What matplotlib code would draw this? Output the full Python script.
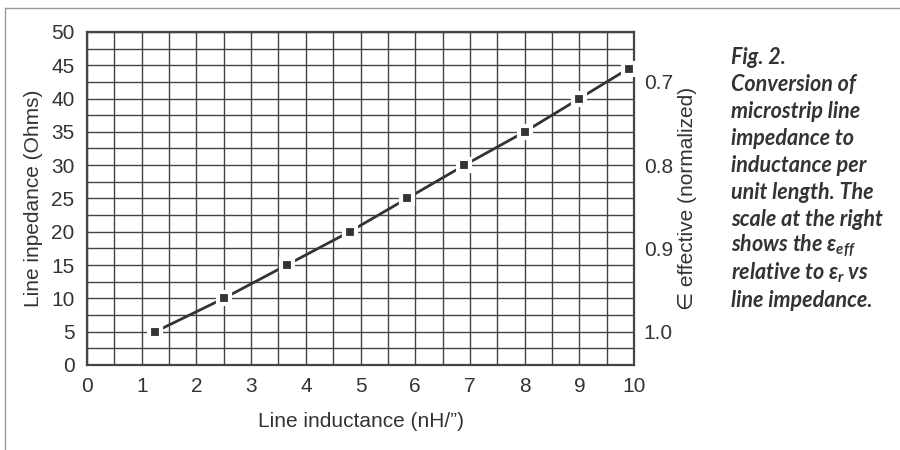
import matplotlib.pyplot as plt
from matplotlib.lines import Line2D
from matplotlib.ticker import MultipleLocator

# values
inductance = [1.25, 2.5, 3.65, 4.8, 5.85, 6.9, 8.0, 9.0, 9.9]
impedance = [5, 10, 15, 20, 25, 30, 35, 40, 44.5]

eps_ticks = [0.7, 0.8, 0.9, 1.0]
eps_lim = (1.04, 0.64)

caption = [
    "Fig. 2.",
    "Conversion of",
    "microstrip line",
    "impedance to",
    "inductance per",
    "unit length. The",
    "scale at the right",
    r"shows the $\epsilon_{\mathit{eff}}$",
    r"relative to $\epsilon_{\mathit{r}}$ vs",
    "line impedance.",
]

plt.rcParams['font.family'] = ['Liberation Sans', 'DejaVu Sans']
plt.rcParams['mathtext.fontset'] = 'custom'
plt.rcParams['mathtext.it'] = 'Lato:bold:italic'
plt.rcParams['mathtext.rm'] = 'Lato:bold:italic'
ink = '#333333'

fig = plt.figure(figsize=(9, 4.5), dpi=100)
ax = fig.add_axes([0.0967, 0.189, 0.6078, 0.74])

ax.plot(inductance, impedance, color=ink, lw=2, marker='s', ms=8,
        mfc=ink, mec='white', mew=3, zorder=3, clip_on=False)

ax.set_xlim(0, 10)
ax.set_ylim(0, 50)
ax.xaxis.set_major_locator(MultipleLocator(1))
ax.xaxis.set_minor_locator(MultipleLocator(0.5))
ax.yaxis.set_major_locator(MultipleLocator(5))
ax.yaxis.set_minor_locator(MultipleLocator(2.5))
ax.grid(True, which='both', color='#444444', lw=1)
ax.set_axisbelow(True)
ax.tick_params(which='both', length=0, labelsize=15, labelcolor=ink)
ax.tick_params(axis='y', pad=9)
ax.tick_params(axis='x', pad=9)
for sp in ax.spines.values():
    sp.set_color('#444444')
    sp.set_linewidth(1.6)

ax.set_xlabel("Line inductance (nH/\u201d)", fontsize=15, color=ink, labelpad=11)
ax.set_ylabel("Line inpedance (Ohms)", fontsize=15, color=ink, labelpad=6)

ax2 = ax.twinx()
ax2.set_ylim(*eps_lim)
ax2.set_yticks(eps_ticks)
ax2.set_yticklabels([f"{v:.1f}" for v in eps_ticks])
ax2.tick_params(length=0, labelsize=15, labelcolor=ink, pad=7)
for sp in ax2.spines.values():
    sp.set_visible(False)
ax2.set_ylabel("\u2208 effective (normalized)", fontsize=15, color=ink, labelpad=4)

# caption
for i, line in enumerate(caption):
    fig.text(0.812, 0.873 - i * 0.06, line, fontsize=15.5, color=ink,
             family='Lato', weight='bold', style='italic', va='center')

# page frame
fig.add_artist(Line2D([0.006, 0.006], [0.0, 0.983], color='#999999', lw=1))
fig.add_artist(Line2D([0.006, 1.0], [0.983, 0.983], color='#999999', lw=1))

fig.savefig("out.png", dpi=100)
